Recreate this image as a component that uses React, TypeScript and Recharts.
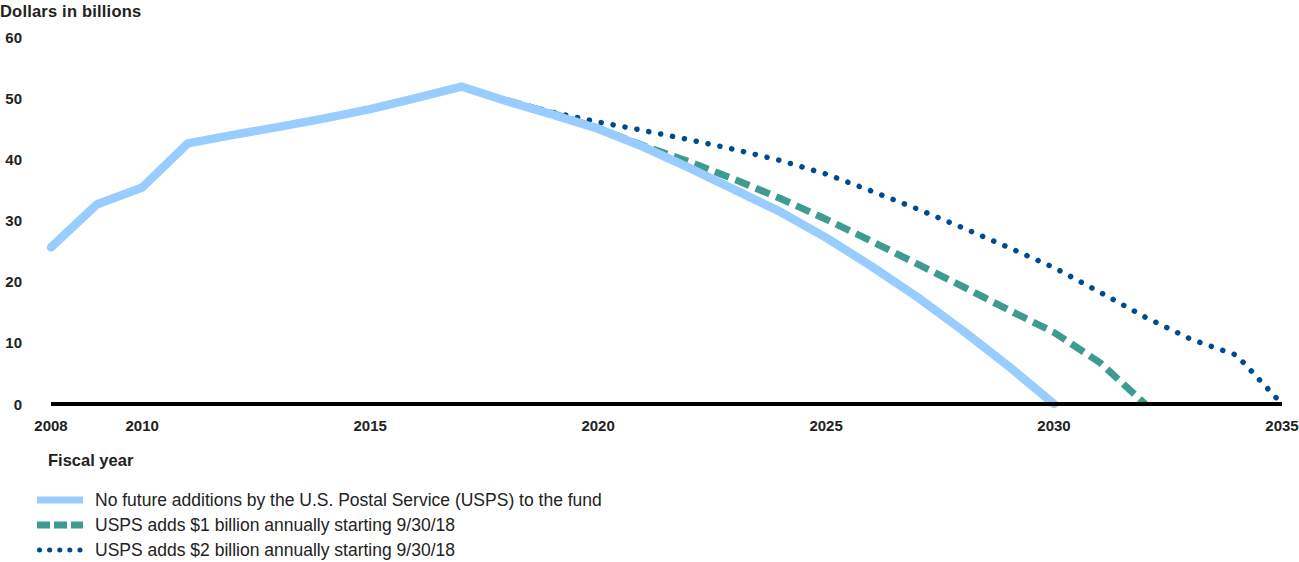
import React from "react";
import { LineChart, Line, XAxis, YAxis } from "recharts";

const years = [2008, 2009, 2010, 2011, 2012, 2013, 2014, 2015, 2016, 2017, 2018, 2019, 2020, 2021, 2022, 2023, 2024, 2025, 2026, 2027, 2028, 2029, 2030, 2031, 2032, 2033, 2034, 2035];
const noAdditions = [25.6, 32.6, 35.4, 42.6, 44.0, 45.3, 46.7, 48.2, 50.0, 51.9, 49.5, 47.3, 45.0, 42.0, 38.6, 35.0, 31.4, 27.2, 22.5, 17.5, 12.0, 6.2, 0, null, null, null, null, null];
const oneBillion = [null, null, null, null, null, null, null, null, null, null, 49.6, 47.5, 45.1, 42.2, 39.6, 36.7, 33.6, 30.2, 26.6, 22.9, 19.2, 15.4, 11.7, 6.8, 0, null, null, null];
const twoBillion = [null, null, null, null, null, null, null, null, null, null, 49.6, 47.7, 46.1, 44.7, 43.2, 41.6, 39.8, 37.6, 34.8, 31.9, 28.8, 25.6, 22.3, 18.3, 14.2, 10.6, 8.0, 0];
const xTicks = [2008, 2010, 2015, 2020, 2025, 2030, 2035];
const yTicks = [0, 10, 20, 30, 40, 50, 60];

const seriesNames = [
  "No future additions by the U.S. Postal Service (USPS) to the fund",
  "USPS adds $1 billion annually starting 9/30/18",
  "USPS adds $2 billion annually starting 9/30/18",
];

const data = years.map((y, i) => ({
  year: y,
  none: noAdditions[i],
  one: oneBillion[i],
  two: twoBillion[i],
}));

const LIGHT = "#99ccff";
const TEAL = "#3d9b8f";
const NAVY = "#004b8d";
const FONT = "'Liberation Sans', Arial, sans-serif";

const YTick = (props: any) => (
  <text x={22} y={props.y} textAnchor="end" dominantBaseline="central" fontFamily={FONT} fontWeight="bold" fontSize={15} fill="#222">
    {props.payload.value}
  </text>
);

const XTick = (props: any) => (
  <text x={props.x} y={props.y + 13} textAnchor="middle" dominantBaseline="central" fontFamily={FONT} fontWeight="bold" fontSize={15} fill="#222">
    {props.payload.value}
  </text>
);

export default function App() {
  return (
    <div style={{ position: "absolute", left: 0, top: 0, width: 1299, height: 562, background: "#fff", fontFamily: FONT }}>
      <div style={{ position: "absolute", left: 0, top: 2, fontSize: 16.5, fontWeight: "bold", color: "#222", letterSpacing: 0.2 }}>Dollars in billions</div>
      <div style={{ position: "absolute", left: 0, top: 0 }}>
        <LineChart width={1299} height={440} data={data} margin={{ top: 37, right: 17, bottom: 6, left: 21 }}>
          <XAxis
            dataKey="year"
            type="number"
            domain={[2008, 2035]}
            ticks={xTicks}
            tickLine={false}
            axisLine={{ stroke: "#000", strokeWidth: 4 }}
            tick={<XTick />}
            height={30}
            interval={0}
          />
          <YAxis
            domain={[0, 60]}
            ticks={yTicks}
            axisLine={false}
            tickLine={false}
            tick={<YTick />}
            width={30}
            interval={0}
          />
          <Line dataKey="two" stroke={NAVY} strokeWidth={5.5} strokeDasharray="0.1 12" strokeLinecap="round" dot={false} activeDot={false} isAnimationActive={false} />
          <Line dataKey="one" stroke={TEAL} strokeWidth={7} strokeDasharray="15 7" dot={false} activeDot={false} isAnimationActive={false} />
          <Line dataKey="none" stroke={LIGHT} strokeWidth={8.5} strokeLinejoin="round" strokeLinecap="round" dot={false} activeDot={false} isAnimationActive={false} />
        </LineChart>
      </div>
      <div style={{ position: "absolute", left: 48, top: 451, fontSize: 16.5, fontWeight: "bold", color: "#222" }}>Fiscal year</div>
      {seriesNames.map((name, i) => (
        <div key={i} style={{ position: "absolute", left: 37, top: 490 + i * 25, height: 20, display: "flex", alignItems: "center" }}>
          <svg width={48} height={20} style={{ display: "block" }}>
            {i === 0 && <line x1={0} x2={46} y1={10} y2={10} stroke={LIGHT} strokeWidth={7} />}
            {i === 1 && <line x1={0} x2={46} y1={10} y2={10} stroke={TEAL} strokeWidth={7} strokeDasharray="13 4" />}
            {i === 2 && <line x1={2.5} x2={46} y1={10} y2={10} stroke={NAVY} strokeWidth={5} strokeDasharray="0.1 10" strokeLinecap="round" />}
          </svg>
          <span style={{ marginLeft: 10, fontSize: 17.5, color: "#222", whiteSpace: "nowrap" }}>{name}</span>
        </div>
      ))}
    </div>
  );
}
